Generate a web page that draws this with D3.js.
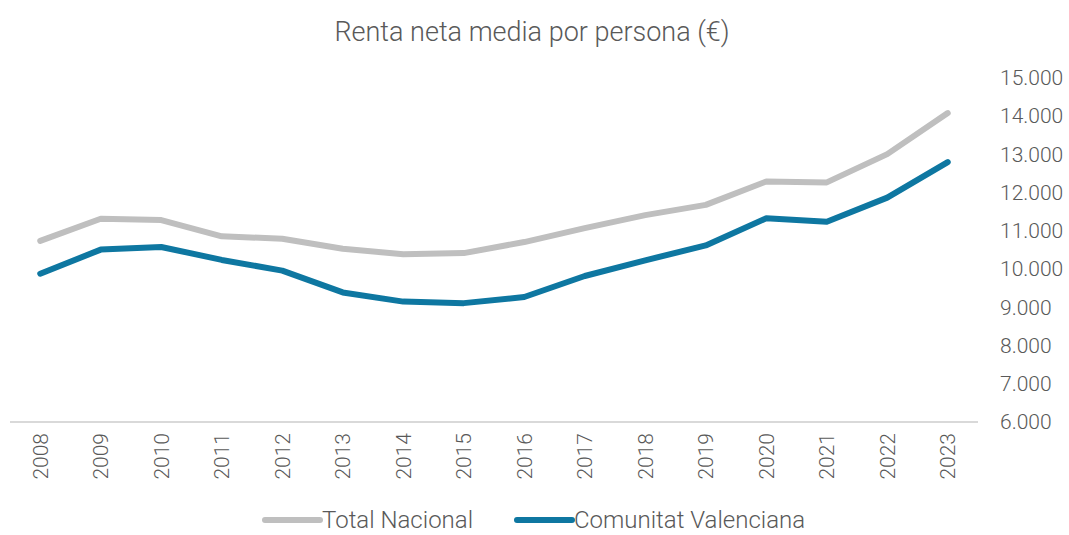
<!DOCTYPE html>
<html>
<head>
<meta charset="utf-8">
<script src="https://cdn.jsdelivr.net/npm/d3@7"></script>
<style>
  body { margin: 0; background: #fff; }
  text { font-family: Roboto, "Noto Sans", sans-serif; font-weight: 300; fill: #595959; }
</style>
</head>
<body>
<div id="chart"></div>
<script>
const years = ["2008","2009","2010","2011","2012","2013","2014","2015","2016","2017","2018","2019","2020","2021","2022","2023"];
const totalNacional = [10737,11318,11284,10858,10795,10531,10391,10419,10708,11074,11412,11680,12292,12269,13008,14082];
const comunitatValenciana = [9880,10510,10580,10240,9960,9390,9150,9110,9270,9820,10230,10620,11330,11240,11870,12800];
const yTicks = [6000,7000,8000,9000,10000,11000,12000,13000,14000,15000];

const seriesList = [
  { name: "Total Nacional", values: totalNacional, color: "#bfbfbf" },
  { name: "Comunitat Valenciana", values: comunitatValenciana, color: "#0e77a1" }
];

const W = 1069, H = 535;
const plotLeft = 10, plotRight = 978, plotTop = 78, plotBottom = 422;

const svg = d3.select("#chart").append("svg")
  .attr("width", W).attr("height", H);

const x = d3.scaleBand().domain(years).range([plotLeft, plotRight]);
const y = d3.scaleLinear().domain([6000, 15000]).range([plotBottom, plotTop]);

const fmt = d => d3.format(",")(d).replace(/,/g, ".");

// title
svg.append("text")
  .attr("x", 532).attr("y", 41)
  .attr("text-anchor", "middle")
  .style("font-size", "27px")
  .text("Renta neta media por persona (€)");

// y axis on right
const yAxis = svg.append("g")
  .attr("transform", `translate(${plotRight},0)`)
  .call(d3.axisRight(y).tickValues(yTicks).tickFormat(fmt).tickSize(0).tickPadding(22));
yAxis.select(".domain").remove();
yAxis.selectAll("text").style("font-size", "21px").style("fill", "#595959");

// x axis
svg.append("line")
  .attr("x1", plotLeft).attr("x2", plotRight)
  .attr("y1", plotBottom).attr("y2", plotBottom)
  .attr("stroke", "#d9d9d9").attr("stroke-width", 2);

const xAxis = svg.append("g")
  .attr("transform", `translate(0,${plotBottom})`)
  .call(d3.axisBottom(x).tickSize(0));
xAxis.select(".domain").remove();
xAxis.selectAll("text")
  .style("font-size", "21px")
  .style("fill", "#595959")
  .attr("text-anchor", "end")
  .attr("transform", "rotate(-90)")
  .attr("x", -11)
  .attr("y", 0)
  .attr("dy", "0.35em");

// lines
const line = d3.line()
  .x((d, i) => x(years[i]) + x.bandwidth() / 2)
  .y(d => y(d));

seriesList.forEach(s => {
  svg.append("path")
    .datum(s.values)
    .attr("fill", "none")
    .attr("stroke", s.color)
    .attr("stroke-width", 6)
    .attr("stroke-linejoin", "round")
    .attr("stroke-linecap", "round")
    .attr("d", line);
});

// legend
const legendPos = [265, 517];
seriesList.forEach((s, i) => {
  const g = svg.append("g").attr("transform", `translate(${legendPos[i]},520)`);
  g.append("line")
    .attr("x1", 0).attr("x2", 55)
    .attr("y1", 0).attr("y2", 0)
    .attr("stroke", s.color).attr("stroke-width", 6)
    .attr("stroke-linecap", "round");
  g.append("text")
    .attr("x", 57).attr("y", 0).attr("dy", "0.35em")
    .style("font-size", "24px")
    .text(s.name);
});
</script>
</body>
</html>
